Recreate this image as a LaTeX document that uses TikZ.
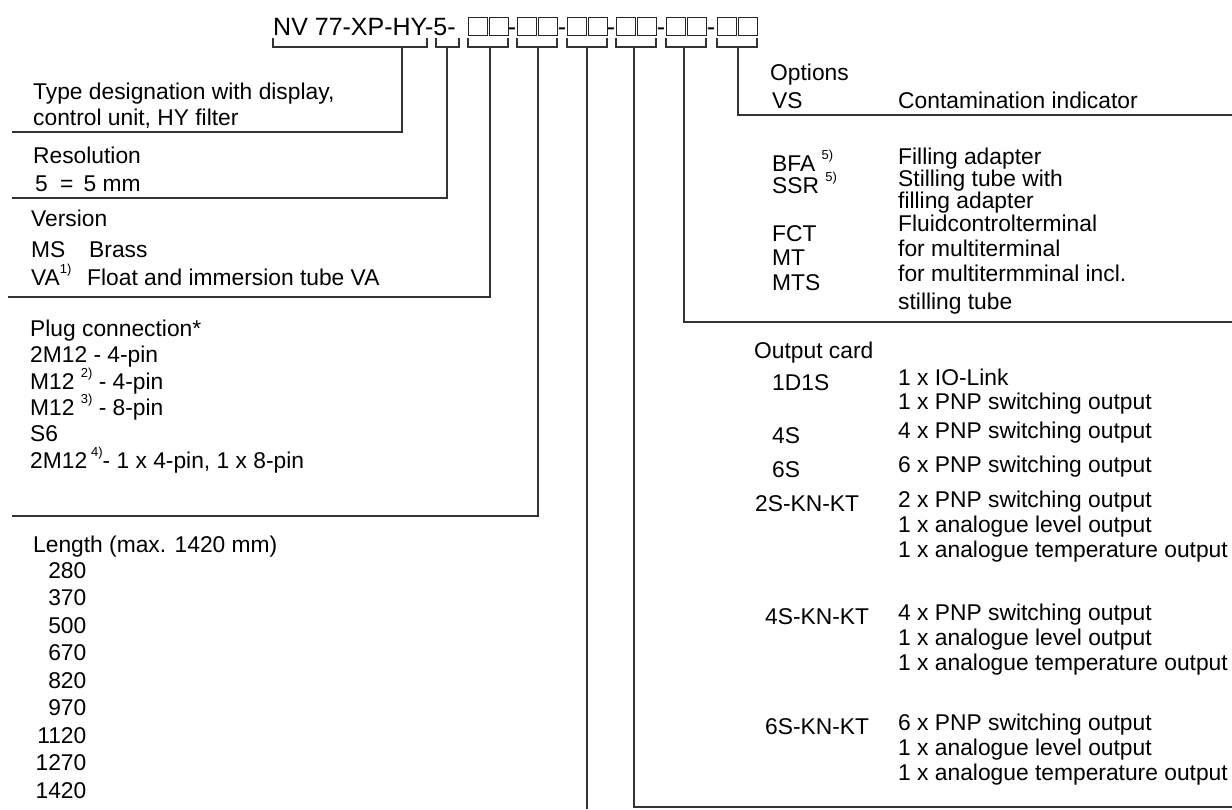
\documentclass[tikz,border=0pt]{standalone}
\usepackage{fontspec}
\setmainfont{Liberation Sans}
\newcommand{\fnref}[1]{\raisebox{0.5em}{\fontsize{13}{13}\selectfont #1}}

\begin{document}
\begin{tikzpicture}
  [x=1pt,y=-1pt,every node/.style={inner sep=0pt,anchor=base west},
   txt/.style={font=\fontsize{22.8}{24}\selectfont},
   head/.style={font=\fontsize{25}{26}\selectfont},
   rule/.style={line width=1.2pt,black!80},
   sq/.style={draw,line width=1.3pt,black!85,minimum width=19pt,minimum height=18pt,anchor=north west}]
  \useasboundingbox (0,0) rectangle (1232,809);

  % order code with empty boxes
  \node[head] (code) at (273,35) {NV 77-XP-HY-5-};
  \foreach \g/\x in {1/468,2/517,3/567,4/616,5/666,6/717} {
    \node[sq] (s\g-l) at (\x,17) {};
    \node[sq] (s\g-r) at (\x+21,17) {};
  }
  \foreach \x in {512,562,611,661,711}
    \node[head,anchor=base] at (\x,35) {-};

  % brackets under the code
  \foreach \l/\r/\n/\m in {273/427/1/402,436/459/2/447,468/508/3/490,517/557/4/538,
                          567/607/5/587,616/656/6/634,666/706/7/684,717/757/8/738} {
    \draw[rule] (\l,38) -- (\l,47) -- (\r,47) -- (\r,38);
    \coordinate (b\n) at (\m,47);
  }

  % ends of the leader lines
  \coordinate (e1) at (12,132);
  \coordinate (e2) at (12,198);
  \coordinate (e3) at (8,297);
  \coordinate (e4) at (12,516);
  \coordinate (e5) at (587,809);
  \coordinate (e6) at (1232,807);
  \coordinate (e7) at (1232,322);
  \coordinate (e8) at (1232,115);
  \foreach \i in {1,...,8}
    \draw[rule] (b\i) |- (e\i);

  % left column
  \node[txt] (type1) at (33,99) {Type designation with display,};
  \node[txt] (type2) at (33,125) {control unit, HY filter};
  \node[txt] (res) at (33,163) {Resolution};
  \node[txt] (res5) at (35,191) {5};
  \node[txt] (resmm) at (60,191) {= \,5 mm};
  \node[txt] (ver) at (31,226) {Version};
  \node[txt] (verms) at (31,257) {MS};
  \node[txt] (brass) at (89,257) {Brass};
  \node[txt] (verva) at (31,285) {VA\fnref{1)}};
  \node[txt] (float) at (87,285) {Float and immersion tube VA};
  \node[txt] (plug) at (30,336) {Plug connection*};
  \node[txt] (plug1) at (30,362) {2M12 - 4-pin};
  \node[txt] (plug2) at (30,389) {M12 \fnref{2)} - 4-pin};
  \node[txt] (plug3) at (30,415) {M12 \fnref{3)} - 8-pin};
  \node[txt] (plug4) at (30,441) {S6};
  \node[txt] (plug5) at (30,468) {2M12\,\fnref{4)}- 1 x 4-pin, 1 x 8-pin};
  \node[txt] (len) at (33,552) {Length (max. 1420 mm)};
  \foreach \v [count=\i from 0] in {280,370,500,670,820,970,1120,1270,1420}
    \node[txt,anchor=base east] (len\v) at (86.5,{578+27.5*\i}) {\v};

  % right column: options
  \node[txt] (opt) at (770,80) {Options};
  \node[txt] (vs) at (772,108) {VS};
  \node[txt] (vsd) at (898,108) {Contamination indicator};
  \node[txt] (bfa) at (772,171) {BFA \fnref{5)}};
  \node[txt] (bfad) at (898,164) {Filling adapter};
  \node[txt] (ssr) at (772,193) {SSR \fnref{5)}};
  \node[txt] (ssrd) at (898,186) {Stilling tube with};
  \node[txt] (ssrd2) at (898,208) {filling adapter};
  \node[txt] (fct) at (772,241) {FCT};
  \node[txt] (fctd) at (898,231) {Fluidcontrolterminal};
  \node[txt] (mt) at (772,265) {MT};
  \node[txt] (mtd) at (898,256) {for multiterminal};
  \node[txt] (mts) at (772,290) {MTS};
  \node[txt] (mtsd) at (898,281) {for multitermminal incl.};
  \node[txt] (mtsd2) at (898,309) {stilling tube};

  % right column: output card
  \node[txt] (card) at (754,358) {Output card};
  \node[txt] (c1d1s) at (772,390) {1D1S};
  \node[txt] (c1d1sa) at (898,385) {1 x IO-Link};
  \node[txt] (c1d1sb) at (898,409) {1 x PNP switching output};
  \node[txt] (c4s) at (772,443) {4S};
  \node[txt] (c4sa) at (898,438) {4 x PNP switching output};
  \node[txt] (c6s) at (772,477) {6S};
  \node[txt] (c6sa) at (898,472) {6 x PNP switching output};
  \node[txt] (c2k) at (755,511) {2S-KN-KT};
  \node[txt] (c2ka) at (898,507) {2 x PNP switching output};
  \node[txt] (c2kb) at (898,532) {1 x analogue level output};
  \node[txt] (c2kc) at (898,557) {1 x analogue temperature output};
  \node[txt] (c4k) at (765,624) {4S-KN-KT};
  \node[txt] (c4ka) at (898,620) {4 x PNP switching output};
  \node[txt] (c4kb) at (898,645) {1 x analogue level output};
  \node[txt] (c4kc) at (898,670) {1 x analogue temperature output};
  \node[txt] (c6k) at (765,734) {6S-KN-KT};
  \node[txt] (c6ka) at (898,730) {6 x PNP switching output};
  \node[txt] (c6kb) at (898,755) {1 x analogue level output};
  \node[txt] (c6kc) at (898,780) {1 x analogue temperature output};
\end{tikzpicture}
\end{document}
